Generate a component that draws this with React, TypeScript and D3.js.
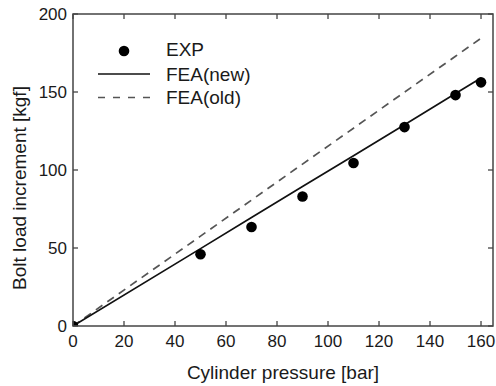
import React from 'react';
import * as d3 from 'd3';

const pressures = [0, 50, 70, 90, 110, 130, 150, 160];
const expLoad = [0, 46, 63.5, 83, 104.5, 127.5, 148, 156.2];
const feaNew = [0, 49.6, 69.5, 89.4, 109.2, 129, 149, 159];
const feaOld = [0, 57.6, 80.7, 103.8, 126.8, 149.9, 172.9, 184.5];
const xTicks = [0, 20, 40, 60, 80, 100, 120, 140, 160];
const yTicks = [0, 50, 100, 150, 200];

const W = 496;
const H = 386;
const m = { left: 73, top: 14, right: 3, bottom: 60 };
const font = '"Liberation Sans", Arial, sans-serif';
const ink = '#1a1a1a';

const App: React.FC = () => {
  const x = d3.scaleLinear().domain([0, 164.7]).range([m.left, W - m.right]);
  const y = d3.scaleLinear().domain([0, 200]).range([H - m.bottom, m.top]);
  const line = d3.line<number>().x((_, i) => x(pressures[i])).y(d => y(d));
  const x0 = x.range()[0], x1 = x.range()[1];
  const y0 = y.range()[0], y1 = y.range()[1];
  const tk = 5;

  return (
    <svg width={W} height={H} style={{ position: 'absolute', left: 0, top: 0, background: '#fff' }}
      fontFamily={font}>
      <defs>
        <clipPath id="plot">
          <rect x={x0} y={y1} width={x1 - x0} height={y0 - y1} />
        </clipPath>
      </defs>
      <g clipPath="url(#plot)">
        <path d={line(feaOld) || ''} fill="none" stroke="#555" strokeWidth={1.7} strokeDasharray="8,6" />
        <path d={line(feaNew) || ''} fill="none" stroke="#111" strokeWidth={1.7} />
        {expLoad.map((v, i) => (
          <circle key={i} cx={x(pressures[i])} cy={y(v)} r={5.3} fill="#000" />
        ))}
      </g>
      <rect x={x0} y={y1} width={x1 - x0} height={y0 - y1} fill="none" stroke="#444" strokeWidth={1.5} />
      {xTicks.map(t => (
        <g key={'x' + t}>
          <line x1={x(t)} x2={x(t)} y1={y0} y2={y0 - tk} stroke="#444" strokeWidth={1.3} />
          <line x1={x(t)} x2={x(t)} y1={y1} y2={y1 + tk} stroke="#444" strokeWidth={1.3} />
          <text x={x(t)} y={y0 + 21} textAnchor="middle" fontSize={17} fill={ink}>{t}</text>
        </g>
      ))}
      {yTicks.map(t => (
        <g key={'y' + t}>
          <line x1={x0} x2={x0 + tk} y1={y(t)} y2={y(t)} stroke="#444" strokeWidth={1.3} />
          <line x1={x1} x2={x1 - tk} y1={y(t)} y2={y(t)} stroke="#444" strokeWidth={1.3} />
          <text x={x0 - 6} y={y(t) + 6} textAnchor="end" fontSize={17} fill={ink}>{t}</text>
        </g>
      ))}
      <text x={(x0 + x1) / 2} y={379} textAnchor="middle" fontSize={19} fill={ink}>Cylinder pressure [bar]</text>
      <text transform={`translate(26, 188) rotate(-90)`} textAnchor="middle" fontSize={19} fill={ink}>
        Bolt load increment [kgf]
      </text>
      <g>
        <circle cx={124} cy={51} r={5.3} fill="#000" />
        <text x={166} y={56} fontSize={19} fill={ink}>EXP</text>
        <line x1={98} x2={150} y1={74} y2={74} stroke="#111" strokeWidth={1.7} />
        <text x={166} y={81} fontSize={19} fill={ink}>FEA(new)</text>
        <line x1={98} x2={150} y1={97.5} y2={97.5} stroke="#555" strokeWidth={1.7} strokeDasharray="7,8" />
        <text x={166} y={104} fontSize={19} fill={ink}>FEA(old)</text>
      </g>
    </svg>
  );
};

export default App;
